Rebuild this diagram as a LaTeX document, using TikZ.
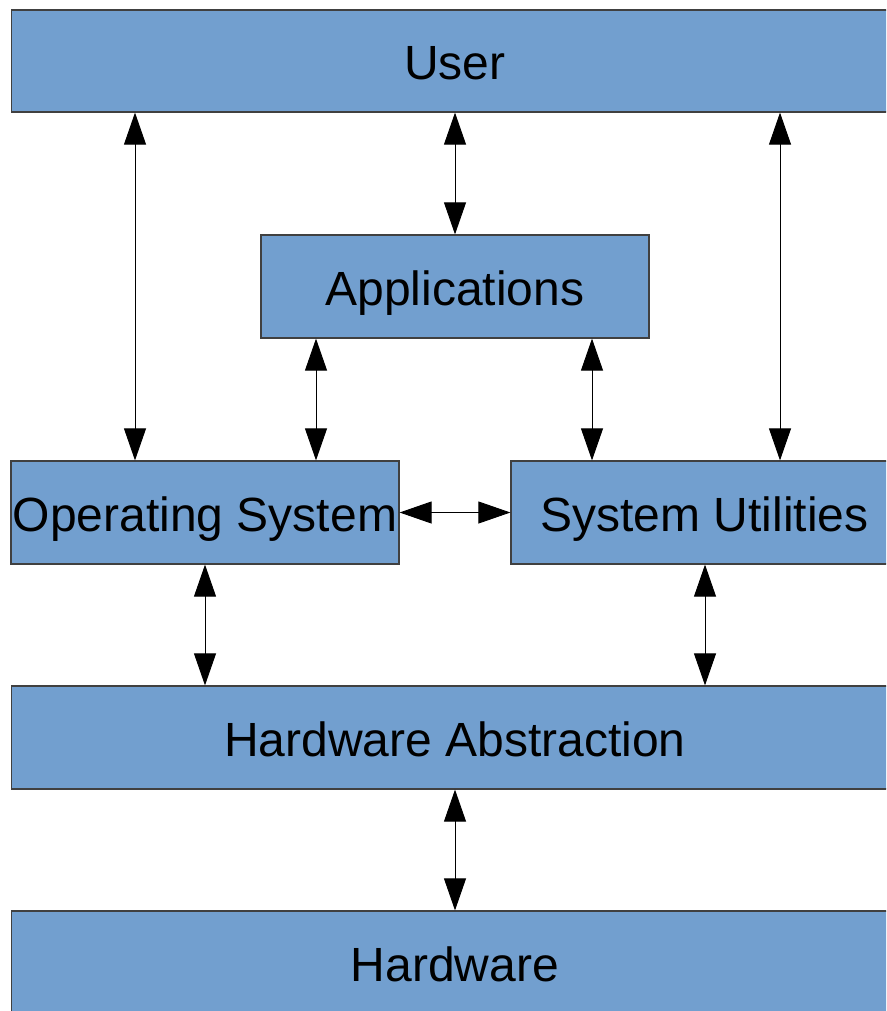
\documentclass[tikz,border=0pt]{standalone}
\usepackage{fontspec}
\setmainfont{Liberation Sans}
\usetikzlibrary{arrows.meta}
\definecolor{layerblue}{HTML}{729FCF}
\begin{document}
\begin{tikzpicture}[x=1pt,y=-1pt,
  layer/.style={draw=black!75, line width=1.2pt, fill=layerblue, inner sep=0pt,
    font=\fontsize{48}{56}\selectfont, text=black,
    text height=45pt, text depth=7pt},
  link/.style={line width=0.9pt, draw=black,
    {Triangle[length=32pt,width=22pt]}-{Triangle[length=32pt,width=22pt]}}]
  \useasboundingbox (0,0) rectangle (886,1011);
  \clip (0,0) rectangle (886,1011);
  % layers of the system
  \node[layer, minimum width=887pt, minimum height=102pt] (user) at (455,61) {User};
  \node[layer, minimum width=388pt, minimum height=103pt] (apps) at (455,286.5) {Applications};
  \node[layer, minimum width=388pt, minimum height=103pt] (os) at (205,512.5) {Operating System};
  \node[layer, minimum width=387pt, minimum height=103pt] (su) at (704.5,512.5) {System Utilities};
  \node[layer, minimum width=887pt, minimum height=103pt] (ha) at (455,737.5) {Hardware Abstraction};
  \node[layer, minimum width=887pt, minimum height=103pt] (hw) at (455,962.5) {Hardware};
  % interfaces between layers
  \draw[link] (user.south -| 135,0) -- (os.north -| 135,0);
  \draw[link] (user.south -| 455,0) -- (apps.north -| 455,0);
  \draw[link] (user.south -| 780,0) -- (su.north -| 780,0);
  \draw[link] (apps.south -| 316,0) -- (os.north -| 316,0);
  \draw[link] (apps.south -| 592,0) -- (su.north -| 592,0);
  \draw[link] (os.east) -- (su.west);
  \draw[link] (os.south -| 205,0) -- (ha.north -| 205,0);
  \draw[link] (su.south -| 705,0) -- (ha.north -| 705,0);
  \draw[link] (ha.south -| 455,0) -- (hw.north -| 455,0);
\end{tikzpicture}
\end{document}
